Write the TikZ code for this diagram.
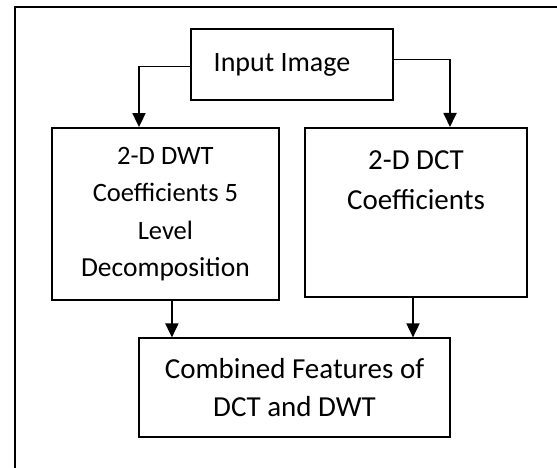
\documentclass[tikz,border=0pt]{standalone}
\usepackage{fontspec}
\setmainfont{Carlito}
\usetikzlibrary{arrows.meta,positioning}
\newcommand{\bigtxt}{\fontsize{29}{40}\selectfont}
\newcommand{\midtxt}{\fontsize{26.5}{37.5}\selectfont}

\begin{document}
\begin{tikzpicture}[x=1pt,y=-1pt,
  box/.style={draw, line width=1.8pt, inner sep=0pt},
  arr/.style={-{Triangle[length=14pt,width=13pt]}, line width=1.8pt}]
\useasboundingbox (0,0) rectangle (557,468);

% outer frame
\draw[line width=2.4pt] (557,7) -- (15,7) -- (15,468);

\node[box, minimum width=202, minimum height=71, font=\fontsize{28}{34}\selectfont] (inp) at (292,64.5) {Input Image\hspace*{20pt}};

\node[box, minimum width=227, minimum height=172, align=center, font=\midtxt] (dwt) at (165.4,214) {2-D DWT\\Coefficients 5\\Level\\{\fontsize{27.5}{37.5}\selectfont Decomposition}};

\node[box, minimum width=222, minimum height=169] (dct) at (416,212.4) {};
\node[inner sep=0pt, align=center, font=\bigtxt, below=23pt of dct.north] (dcttxt) {2-D DCT\\Coefficients};

\node[box, minimum width=311, minimum height=98.4, align=center, font=\fontsize{29}{37.5}\selectfont] (comb) at (294.5,387.5) {Combined Features of\\DCT and DWT};

\draw[arr] ([yshift=-2pt]inp.west) -| ([xshift=-26.4pt]dwt.north);
\draw[arr] ([yshift=5pt]inp.east) -| ([xshift=34pt]dct.north);
\draw[arr] ([xshift=6.5pt]dwt.south) -- ([xshift=6.5pt]dwt.south |- comb.north);
\draw[arr] ([xshift=-3pt]dct.south) -- ([xshift=-3pt]dct.south |- comb.north);

\end{tikzpicture}
\end{document}
